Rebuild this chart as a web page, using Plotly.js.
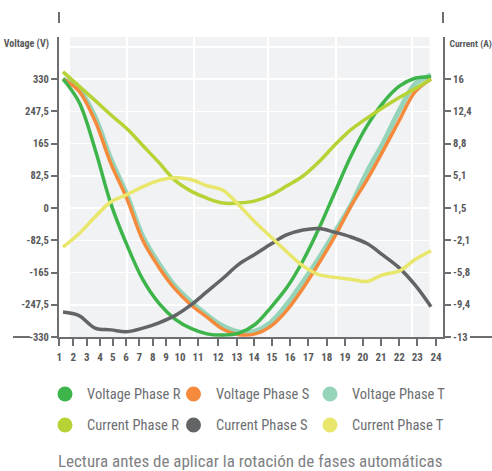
<!DOCTYPE html>
<html>
<head>
<meta charset="utf-8">
<script src="https://cdn.plot.ly/plotly-3.0.1.min.js"></script>
<style>
html,body{margin:0;padding:0;background:#fff;}
#chart{width:492px;height:471px;}
#chart svg text{font-stretch:75% !important;}
</style>
</head>
<body>
<div id="chart"></div>
<script>
// ---- data ----
var hours = [1,2,3,4,5,6,7,8,9,10,11,12,13,14,15,16,17,18,19,20,21,22,23,24];
var hourLabels = ["1","2","3","4","5","6","7","8","9","10","11","12","13","14","15","16","17","18","19","20","21","22","23","24"];
var voltageR = [330,271,151,10,-95,-184,-244,-284,-308,-322,-325,-320,-298,-254,-203,-135,-52,41,133,210,269,311,332,336];
var voltageS = [330,299,223,113,23,-84,-152,-207,-248,-279,-310,-324,-322,-302,-261,-205,-141,-72,5,72,146,223,297,330];
var voltageT = [330,304,233,125,33,-74,-143,-200,-240,-274,-302,-317,-315,-292,-246,-189,-128,-61,8,92,166,248,317,340];
var currentR = [16.8,15.2,13.6,11.95,10.4,8.5,6.6,4.6,3.4,2.6,2.06,2.06,2.3,2.96,4.0,5.1,6.7,8.6,10.3,11.6,12.8,13.9,14.9,16.0];
var currentS = [-10.2,-10.6,-12.0,-12.2,-12.4,-12.0,-11.4,-10.6,-9.4,-7.9,-6.4,-4.8,-3.7,-2.55,-1.5,-0.97,-0.8,-1.23,-1.76,-2.5,-3.8,-5.2,-7.15,-9.6];
var currentT = [-2.9,-1.4,0.5,2.2,3.0,3.9,4.6,4.9,4.7,4.0,3.5,1.8,-0.07,-1.76,-3.45,-5.0,-6.0,-6.3,-6.5,-6.75,-6.0,-5.6,-4.3,-3.3];
var seriesNames = ["Voltage Phase R","Voltage Phase S","Voltage Phase T","Current Phase R","Current Phase S","Current Phase T"];
var voltageTicks = ["-330","-247,5","-165","-82,5","0","82,5","165","247,5","330"];
var currentTicks = ["-13","-9,4","-5,8","-2,1","1,5","5,1","8,8","12,4","16"];
var caption = "Lectura antes de aplicar la rotación de fases automáticas";

// ---- styling ----
var colors = ["#3db54a","#f58a3c","#96d4ba","#b6d335","#636466","#e9e76b"];
var widths = [3.5,3.5,5,3.5,3.5,3.5];
var FONT = "Roboto, 'DejaVu Sans Condensed', sans-serif";
var AX = "#6d6e71";
var TXT = "#58595b";

var W = 492, H = 471;
var L = 59, R = 443, T = 37, B = 337;   // plot area in px
var vMin = -330, vMax = 330, vTopPx = 79, vBotPx = 337;
var vPerPx = (vMax - vMin) / (vBotPx - vTopPx);
var vTop = vMax + (vTopPx - T) * vPerPx;
var cMin = -13, cMax = 16;
var cPerPx = (cMax - cMin) / (vBotPx - vTopPx);
var cTop = cMax + (vTopPx - T) * cPerPx;

var vTickVals = voltageTicks.map(function(_, i){ return vMin + i*82.5; });
var cTickVals = currentTicks.map(function(_, i){ return cMin + i*(cMax-cMin)/8; });

// x data axis: first point at 63px, step 16px
var x0px = 63, stepPx = 16;
var xr = [1 - (x0px - L)/stepPx, 1 + (R - x0px)/stepPx];

var allY = [voltageR, voltageS, voltageT, currentR, currentS, currentT];
var traces = allY.map(function(arr, i){
  return {
    x: hours, y: arr, type: 'scatter', mode: 'lines',
    name: seriesNames[i], yaxis: i < 3 ? 'y' : 'y2',
    line: {color: colors[i], width: widths[i], shape: 'spline', smoothing: 1.0},
    showlegend: false, hoverinfo: 'skip'
  };
});
traces = [traces[2], traces[1], traces[0], traces[3], traces[4], traces[5]];
traces.push({x:[null], y:[null], xaxis:'x2', yaxis:'y', mode:'lines', showlegend:false, hoverinfo:'skip'});
traces.push({x:[null], y:[null], xaxis:'x3', yaxis:'y3', mode:'lines', showlegend:false, hoverinfo:'skip'});

var xTickPx = [59.3,73.3,86.7,100,112.7,126,139.3,152.7,166,180,198,218,236.7,254,271.7,290,308.3,326.7,345,362.7,381,399.3,417.3,436];
var xGridPx = [127,194,268,336,412];
var yGridVals = [];
for (var g = -247.5; g <= 413; g += 82.5) yGridVals.push(g);

var tickFont = {family: FONT, size: 10.5, color: TXT, weight: 'bold'};

var shapes = [
  {type:'rect', xref:'paper', yref:'paper', x0:(70-L)/(R-L), x1:(429.5-L)/(R-L), y0:0, y1:1,
   fillcolor:'#f1f2f4', line:{width:0}, layer:'below'},
  {type:'line', xref:'paper', yref:'paper', x0:0, x1:0, y0:(B-12)/(B-T), y1:(B-23)/(B-T), line:{color:AX, width:2}},
  {type:'line', xref:'paper', yref:'paper', x0:1, x1:1, y0:(B-12)/(B-T), y1:(B-23)/(B-T), line:{color:AX, width:2}},
  {type:'line', xref:'paper', yref:'paper', x0:(13-L)/(R-L), x1:(30-L)/(R-L), y0:0, y1:0, line:{color:AX, width:2}},
  {type:'line', xref:'paper', yref:'paper', x0:(470-L)/(R-L), x1:(492-L)/(R-L), y0:0, y1:0, line:{color:AX, width:2}}
];

var annotations = [
  {text:'<b>Voltage (V)</b>', xref:'paper', yref:'paper', x:(54-L)/(R-L), y:(B-44)/(B-T), xanchor:'right', yanchor:'middle',
   showarrow:false, font:{family:FONT, size:10, color:TXT}},
  {text:'<b>Current (A)</b>', xref:'paper', yref:'paper', x:(445-L)/(R-L), y:(B-44)/(B-T), xanchor:'left', yanchor:'middle',
   showarrow:false, font:{family:FONT, size:9.5, color:TXT}},
  {text:caption, xref:'paper', yref:'paper', x:(250-L)/(R-L), y:(B-461)/(B-T), xanchor:'center', yanchor:'middle',
   showarrow:false, font:{family:FONT, size:17, color:'#808184'}}
];

var legX = [65, 193.5, 330];
var legY = [394, 425];
seriesNames.forEach(function(n, i){
  var cx = legX[i % 3], cy = legY[Math.floor(i/3)], r = 7.5;
  shapes.push({type:'circle', xref:'paper', yref:'paper',
    x0:(cx - r - L)/(R-L), x1:(cx + r - L)/(R-L), y0:(B-(cy+r))/(B-T), y1:(B-(cy-r))/(B-T),
    fillcolor: colors[i], line:{width:0}});
  annotations.push({text:n, xref:'paper', yref:'paper', x:(cx + 14 - L)/(R-L), y:(B-cy)/(B-T),
    xanchor:'left', yanchor:'middle', showarrow:false, font:{family:FONT, size:14.5, color:'#6d6e71'}});
});

var layout = {
  width: W, height: H,
  margin: {l: L, r: W - R, t: T, b: H - B, pad: 0},
  paper_bgcolor: '#ffffff', plot_bgcolor: 'rgba(0,0,0,0)',
  showlegend: false,
  xaxis: {range: xr, showgrid:false, zeroline:false, showline:false, showticklabels:false, ticks:'', fixedrange:true},
  xaxis2: {overlaying:'x', anchor:'y', side:'bottom', range:[L, R], tickmode:'array', tickvals:xTickPx, ticktext:hourLabels,
    ticks:'outside', ticklen:7, tickwidth:2, tickcolor:AX, showline:true, linecolor:AX, linewidth:2,
    showgrid:false, zeroline:false, tickfont: {family: FONT, size: 11, color: TXT, weight: 'bold'}, ticklabelstandoff: 2},
  xaxis3: {overlaying:'x', anchor:'y3', range:[L, R], tickmode:'array', tickvals:xGridPx, showticklabels:false, ticks:'',
    showgrid:true, gridcolor:'#ffffff', gridwidth:1.5, zeroline:false, showline:false},
  yaxis: {range:[vMin, vTop], tickmode:'array', tickvals:vTickVals, ticktext:voltageTicks,
    ticks:'outside', ticklen:6, tickwidth:2, tickcolor:AX, showline:true, linecolor:AX, linewidth:2,
    showgrid:false, zeroline:false, tickfont: tickFont},
  yaxis2: {overlaying:'y', side:'right', range:[cMin, cTop], tickmode:'array', tickvals:cTickVals, ticktext:currentTicks,
    ticks:'outside', ticklen:6, tickwidth:2, tickcolor:AX, showline:true, linecolor:AX, linewidth:2,
    showgrid:false, zeroline:false, tickfont: tickFont},
  yaxis3: {overlaying:'y', range:[vMin, vTop], tickmode:'array', tickvals:yGridVals, showticklabels:false, ticks:'',
    showgrid:true, gridcolor:'#ffffff', gridwidth:1.5, zeroline:false, showline:false},
  shapes: shapes,
  annotations: annotations,
  font: {family: FONT}
};

Plotly.newPlot('chart', traces, layout, {displayModeBar:false, staticPlot:true});
</script>
</body>
</html>
